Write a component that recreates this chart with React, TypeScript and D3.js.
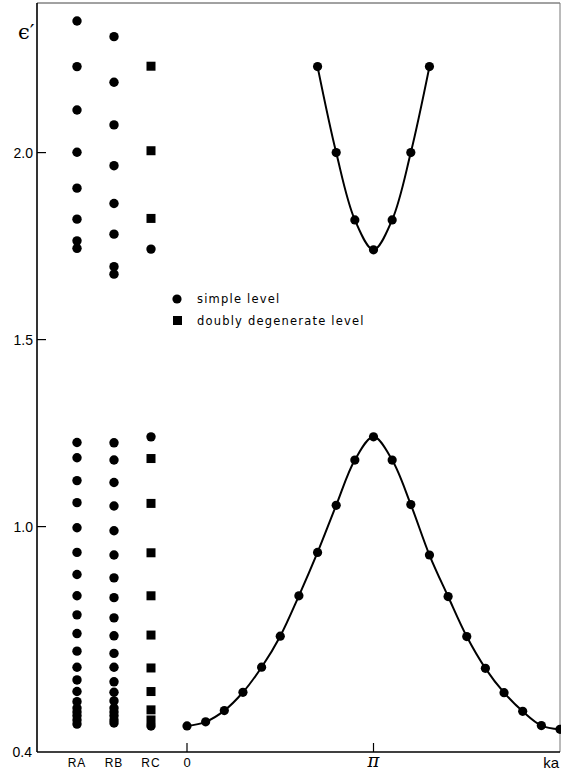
import React from "react";
import * as d3 from "d3";

// energy levels
const rings = ["RA", "RB", "RC"];

const raLevels = [
  2.352, 2.23, 2.114, 2.001, 1.905, 1.822, 1.764, 1.744,
  1.225, 1.184, 1.123, 1.064, 0.997, 0.931, 0.872, 0.815, 0.764, 0.714,
  0.667, 0.624, 0.59, 0.559, 0.532, 0.515, 0.504, 0.494, 0.483, 0.472,
];
const rbLevels = [
  2.31, 2.188, 2.074, 1.965, 1.864, 1.782, 1.695, 1.675,
  1.224, 1.178, 1.118, 1.055, 0.989, 0.924, 0.863, 0.81, 0.756, 0.708,
  0.661, 0.624, 0.585, 0.557, 0.534, 0.515, 0.504, 0.494, 0.483, 0.475,
];
const rcSimple = [1.742, 1.24, 0.467];
const rcDouble = [
  2.231, 2.005, 1.824, 1.182, 1.062, 0.93, 0.815, 0.71, 0.622, 0.559,
  0.51, 0.483,
];

// k in units of pi
const lowerK = [
  0, 0.1, 0.2, 0.3, 0.4, 0.5, 0.6, 0.7, 0.8, 0.9, 1.0, 1.1, 1.2, 1.3, 1.4,
  1.5, 1.6, 1.7, 1.8, 1.9, 2.0,
];
const lowerBand = [
  0.467, 0.478, 0.508, 0.557, 0.624, 0.707, 0.815, 0.931, 1.057, 1.178,
  1.24, 1.178, 1.059, 0.924, 0.813, 0.706, 0.621, 0.556, 0.506, 0.468,
  0.458,
];
const upperK = [0.7, 0.8, 0.9, 1.0, 1.1, 1.2, 1.3];
const upperBand = [2.23, 2.0, 1.82, 1.74, 1.82, 2.0, 2.23];

const yTicks = [2.0, 1.5, 1.0];
const kTicks = [0, 1];
const kLabels = ["0", "π", "ka"];

const App = () => {
  const width = 561;
  const height = 771;
  const left = 37;
  const right = 560;

  const y = d3.scaleLinear().domain([0.4, 2.4]).range([751, 3]);
  const x = d3.scaleLinear().domain([0, 2]).range([187, 560]);
  const xr = d3.scalePoint().domain(rings).range([77, 151]);
  const bottom = y(0.4) + 1;

  const line = d3
    .line<number>()
    .x((d, i) => x(lowerK[i]))
    .y((d) => y(d))
    .curve(d3.curveCatmullRom);
  const lineUp = d3
    .line<number>()
    .x((d, i) => x(upperK[i]))
    .y((d) => y(d))
    .curve(d3.curveCatmullRom);

  const r = 4.7;
  const sq = 9;
  const sans = "'Liberation Sans', Arial, sans-serif";

  return (
    <svg
      width={width}
      height={height}
      style={{ position: "absolute", left: 0, top: 0, background: "#fff" }}
    >
      {/* frame */}
      <line x1={left} x2={right} y1={3} y2={3} stroke="#444" strokeWidth={1} />
      <line x1={right} x2={right} y1={3} y2={bottom} stroke="#777" strokeWidth={1} />
      <line x1={left} x2={left} y1={3} y2={bottom} stroke="#000" strokeWidth={1.6} />
      <line x1={left} x2={right} y1={bottom} y2={bottom} stroke="#000" strokeWidth={1.6} />

      {/* y ticks */}
      {yTicks.map((t) => (
        <g key={t}>
          <line x1={left} x2={left + 9} y1={y(t)} y2={y(t)} stroke="#000" strokeWidth={1.2} />
          <text
            x={left - 4}
            y={y(t) + 5}
            textAnchor="end"
            fontFamily={sans}
            fontSize={14}
          >
            {t.toFixed(1)}
          </text>
        </g>
      ))}
      <text x={32} y={bottom + 5} textAnchor="end" fontFamily={sans} fontSize={14}>
        0.4
      </text>
      <text x={18} y={39} fontFamily="'DejaVu Serif', serif" fontSize={21}>
        ϵ′
      </text>

      {/* x ticks */}
      {kTicks.map((t) => (
        <line
          key={t}
          x1={x(t)}
          x2={x(t)}
          y1={bottom - 9}
          y2={bottom}
          stroke="#000"
          strokeWidth={1.2}
        />
      ))}
      {rings.map((c) => (
        <text
          key={c}
          x={xr(c)}
          y={767}
          textAnchor="middle"
          fontFamily={sans}
          fontSize={12}
          letterSpacing={1}
        >
          {c}
        </text>
      ))}
      <text x={x(0)} y={767} textAnchor="middle" fontFamily={sans} fontSize={13}>
        {kLabels[0]}
      </text>
      <text
        x={x(1)}
        y={767}
        textAnchor="middle"
        fontFamily="'DejaVu Serif', serif"
        fontStyle="italic"
        fontSize={18}
      >
        {kLabels[1]}
      </text>
      <text x={559} y={768} textAnchor="end" fontFamily={sans} fontSize={15}>
        {kLabels[2]}
      </text>

      {/* ring levels */}
      {raLevels.map((v, i) => (
        <circle key={"a" + i} cx={xr("RA")} cy={y(v)} r={r} fill="#000" />
      ))}
      {rbLevels.map((v, i) => (
        <circle key={"b" + i} cx={xr("RB")} cy={y(v)} r={r} fill="#000" />
      ))}
      {rcSimple.map((v, i) => (
        <circle key={"c" + i} cx={xr("RC")} cy={y(v)} r={r} fill="#000" />
      ))}
      {rcDouble.map((v, i) => (
        <rect
          key={"d" + i}
          x={(xr("RC") as number) - sq / 2}
          y={y(v) - sq / 2}
          width={sq}
          height={sq}
          fill="#000"
        />
      ))}

      {/* bands */}
      <path d={line(lowerBand) as string} fill="none" stroke="#000" strokeWidth={2} />
      <path d={lineUp(upperBand) as string} fill="none" stroke="#000" strokeWidth={2} />
      {lowerBand.map((v, i) => (
        <circle key={"l" + i} cx={x(lowerK[i])} cy={y(v)} r={4.6} fill="#000" />
      ))}
      {upperBand.map((v, i) => (
        <circle key={"u" + i} cx={x(upperK[i])} cy={y(v)} r={4.6} fill="#000" />
      ))}

      {/* legend */}
      <circle cx={177} cy={299} r={4.6} fill="#000" />
      <text x={197} y={303} fontFamily="'DejaVu Sans', sans-serif" fontSize={11.5} letterSpacing={1.2}>
        simple level
      </text>
      <rect x={173} y={316} width={9} height={9} fill="#000" />
      <text x={197} y={325} fontFamily="'DejaVu Sans', sans-serif" fontSize={11.5} letterSpacing={1.2}>
        doubly degenerate level
      </text>
    </svg>
  );
};

export default App;
